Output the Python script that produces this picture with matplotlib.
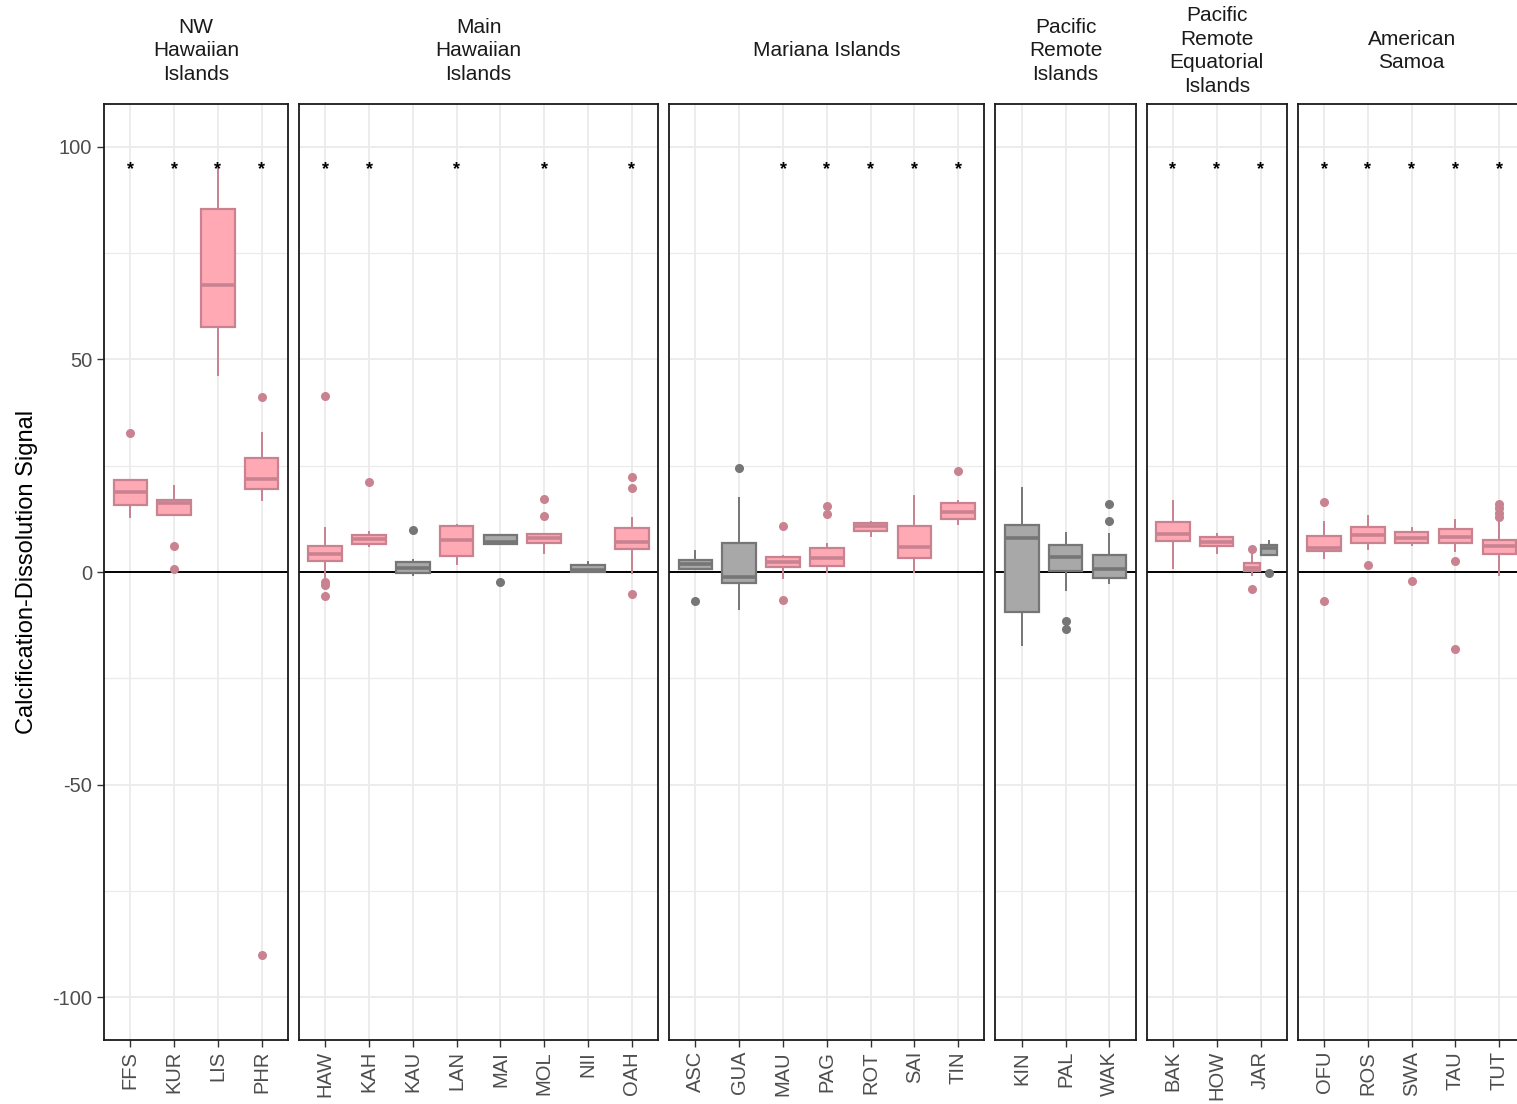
import matplotlib
matplotlib.use("Agg")
import matplotlib.pyplot as plt
import numpy as np

plt.rcParams["font.family"] = ["Liberation Sans", "DejaVu Sans"]
plt.rcParams["axes.unicode_minus"] = False

# facet layout: regions and the sites inside each
regions = ["NW\nHawaiian\nIslands", "Main\nHawaiian\nIslands", "Mariana Islands",
           "Pacific\nRemote\nIslands", "Pacific\nRemote\nEquatorial\nIslands",
           "American\nSamoa"]
region_sites = [
    ["FFS", "KUR", "LIS", "PHR"],
    ["HAW", "KAH", "KAU", "LAN", "MAI", "MOL", "NII", "OAH"],
    ["ASC", "GUA", "MAU", "PAG", "ROT", "SAI", "TIN"],
    ["KIN", "PAL", "WAK"],
    ["BAK", "HOW", "JAR"],
    ["OFU", "ROS", "SWA", "TAU", "TUT"],
]

# one entry per box (JAR has two dodged boxes)
box_site = ["FFS", "KUR", "LIS", "PHR",
            "HAW", "KAH", "KAU", "LAN", "MAI", "MOL", "NII", "OAH",
            "ASC", "GUA", "MAU", "PAG", "ROT", "SAI", "TIN",
            "KIN", "PAL", "WAK",
            "BAK", "HOW", "JAR", "JAR",
            "OFU", "ROS", "SWA", "TAU", "TUT"]
box_sig = [1, 1, 1, 1,
           1, 1, 0, 1, 0, 1, 0, 1,
           0, 0, 1, 1, 1, 1, 1,
           0, 0, 0,
           1, 1, 1, 0,
           1, 1, 1, 1, 1]
whislo = [13.0, 13.4, 46.4, 16.9,
          -1.1, 6.0, -0.7, 1.8, 6.5, 4.5, 0.0, -0.2,
          0.6, -8.7, -1.3, 0.0, 8.5, 0.0, 11.2,
          -17.2, -4.2, -2.7,
          1.0, 4.5, -0.8, 4.0,
          3.4, 5.4, 6.4, 4.9, -0.7]
q1 = [15.8, 13.4, 57.7, 19.5,
      2.6, 6.5, -0.3, 3.8, 6.5, 6.9, 0.0, 5.3,
      0.6, -2.5, 1.1, 1.5, 9.7, 3.2, 12.5,
      -9.3, 0.2, -1.3,
      7.2, 6.1, 0.2, 4.0,
      4.9, 6.9, 6.9, 6.9, 4.2]
med = [18.9, 16.3, 67.5, 21.9,
       4.2, 7.7, 1.0, 7.5, 7.0, 7.9, 0.5, 7.1,
       1.9, -1.2, 2.4, 3.4, 10.9, 5.8, 14.2,
       8.0, 3.6, 0.7,
       8.9, 7.1, 1.0, 5.6,
       5.6, 8.8, 8.1, 8.3, 6.2]
q3 = [21.6, 16.9, 85.3, 26.7,
      6.0, 8.7, 2.4, 10.7, 8.6, 8.9, 1.6, 10.4,
      2.8, 6.8, 3.6, 5.7, 11.4, 10.9, 16.2,
      11.1, 6.4, 4.0,
      11.8, 8.2, 2.0, 6.4,
      8.5, 10.6, 9.3, 10.0, 7.5]
whishi = [21.6, 20.1, 95.4, 32.6,
          10.4, 9.3, 2.8, 11.1, 8.6, 8.9, 2.4, 12.6,
          5.0, 17.3, 3.8, 6.6, 11.7, 17.9, 16.7,
          19.7, 9.1, 8.9,
          16.7, 8.9, 4.2, 7.2,
          11.8, 13.2, 10.4, 12.2, 12.6]
fliers = [[32.7], [6.2, 0.7], [], [41.2, -90.1],
          [41.4, -2.3, -3.1, -5.6], [21.1], [9.8], [], [-2.3], [17.1, 13.2], [], [22.4, 19.8, -5.1],
          [-6.7], [24.5], [10.8, -6.6], [15.4, 13.6], [], [], [23.7],
          [], [-11.5, -13.4], [16.0, 11.9],
          [], [], [5.4, -3.9], [-0.2],
          [16.4, -6.8], [1.6], [-2.0], [2.5, -18.1], [16.0, 15.0, 13.8, 13.0]]

star_sites = ["FFS", "KUR", "LIS", "PHR", "HAW", "KAH", "LAN", "MOL", "OAH",
              "MAU", "PAG", "ROT", "SAI", "TIN", "BAK", "HOW", "JAR",
              "OFU", "ROS", "SWA", "TAU", "TUT"]
star_y = 94.5

PINK_FILL, PINK_EDGE = "#FFA9B5", "#C98290"
GREY_FILL, GREY_EDGE = "#A8A8A8", "#767676"

W, H = 1517, 1104
fig = plt.figure(figsize=(W / 100, H / 100), dpi=100)

left_px, top_px, bottom_px = 104, 104, 1040
unit, gap = 43.8, 11

x0 = left_px
for r, (region, sites) in enumerate(zip(regions, region_sites)):
    n = len(sites)
    width_px = (n - 1 + 1.2) * unit
    ax = fig.add_axes([x0 / W, 1 - bottom_px / H, width_px / W, (bottom_px - top_px) / H])
    x0 += width_px + gap

    ax.set_xlim(-0.6, n - 1 + 0.6)
    ax.set_ylim(-110, 110)
    ax.set_yticks([-100, -50, 0, 50, 100])
    ax.set_yticks([-75, -25, 25, 75], minor=True)
    ax.set_xticks(range(n))
    ax.set_xticklabels(sites, rotation=90, fontsize=14.5, color="#4d4d4d")
    ax.grid(True, which="major", color="#ebebeb", lw=1.3)
    ax.grid(True, which="minor", axis="y", color="#ebebeb", lw=0.9)
    ax.set_axisbelow(True)
    ax.tick_params(axis="x", length=5, width=1, color="#333333", pad=3)
    ax.tick_params(axis="y", which="major", length=5, width=1, color="#333333",
                   labelsize=14.5, labelcolor="#4d4d4d")
    ax.tick_params(axis="y", which="minor", length=0)
    if r > 0:
        ax.tick_params(axis="y", which="major", length=0, labelleft=False)
    for s in ax.spines.values():
        s.set_color("#1a1a1a")
        s.set_linewidth(1.3)

    ax.axhline(0, color="black", lw=1.4, zorder=1.5)

    for i, site in enumerate(sites):
        idx = [k for k, b in enumerate(box_site) if b == site]
        m = len(idx)
        bw = 0.78 / m
        for j, k in enumerate(idx):
            pos = i + (j - (m - 1) / 2) * bw
            fill = PINK_FILL if box_sig[k] else GREY_FILL
            edge = PINK_EDGE if box_sig[k] else GREY_EDGE
            stats = [dict(med=med[k], q1=q1[k], q3=q3[k], whislo=whislo[k],
                          whishi=whishi[k], fliers=fliers[k])]
            ax.bxp(stats, positions=[pos], widths=bw * 0.98, patch_artist=True,
                   showcaps=False, manage_ticks=False,
                   boxprops=dict(facecolor=fill, edgecolor=edge, lw=1.6),
                   medianprops=dict(color=edge, lw=2.6),
                   whiskerprops=dict(color=edge, lw=1.4),
                   flierprops=dict(marker="o", markerfacecolor=edge, markeredgecolor=edge,
                                   markersize=5.5))
        if site in star_sites:
            ax.text(i, star_y, "*", ha="center", va="center", fontsize=13,
                    fontweight="bold", color="black")

    ax.set_xlim(-0.6, n - 1 + 0.6)
    fig.text((x0 - gap - width_px / 2) / W, 1 - 51 / H, region, ha="center", va="center",
             fontsize=15, color="#1a1a1a", linespacing=1.3)

fig.text(27 / W, 1 - 572 / H, "Calcification-Dissolution Signal", rotation=90,
         ha="center", va="center", fontsize=17, color="black")

fig.savefig("out.png", dpi=100)
